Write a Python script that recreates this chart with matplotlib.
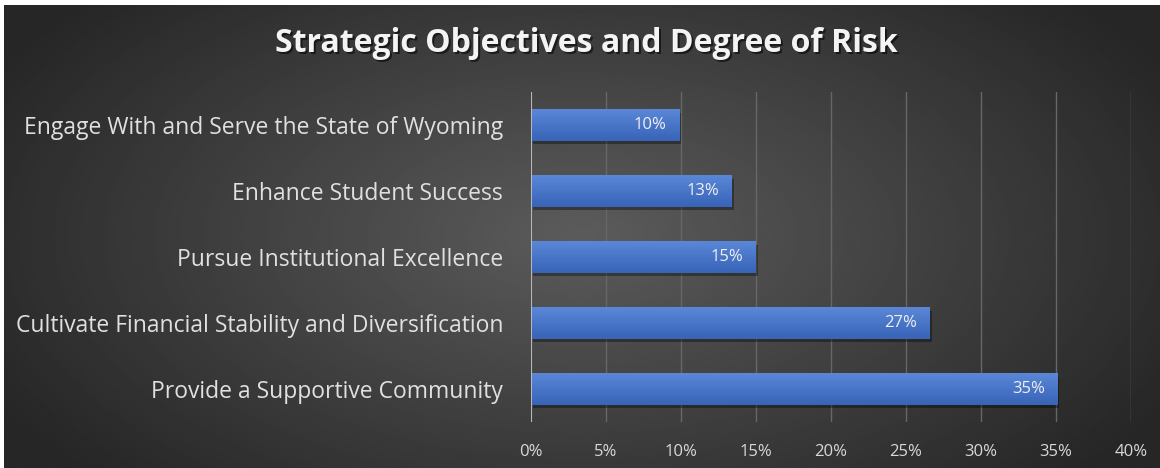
import matplotlib.pyplot as plt
import numpy as np
from matplotlib.patches import Rectangle
from matplotlib.colors import LinearSegmentedColormap

# values (percent)
objectives = [
    "Engage With and Serve the State of Wyoming",
    "Enhance Student Success",
    "Pursue Institutional Excellence",
    "Cultivate Financial Stability and Diversification",
    "Provide a Supportive Community",
]
risk = [9.9, 13.4, 15.0, 26.6, 35.1]
ticks = [0, 5, 10, 15, 20, 25, 30, 35, 40]
tick_labels = [f"{t}%" for t in ticks]

plt.rcParams['font.family'] = ['Open Sans', 'DejaVu Sans']

fig = plt.figure(figsize=(11.6, 4.68), dpi=100)
fig.patch.set_facecolor('white')

# dark radial background
bg = fig.add_axes([4 / 1160, 0, 1 - 4 / 1160, 1 - 5 / 468])
bg.set_axis_off()
yy, xx = np.mgrid[-1:1:200j, -1:1:400j]
r = np.sqrt((xx / 1.0) ** 2 + (yy / 1.3) ** 2)
shade = np.clip(0.36 - 0.18 * r, 0.15, 0.36)
bg.imshow(shade, cmap='gray', vmin=0, vmax=1, aspect='auto',
          extent=[0, 1, 0, 1], interpolation='bilinear')
bg.set_xlim(0, 1)
bg.set_ylim(0, 1)

ax = fig.add_axes([531 / 1160, 46 / 468, 600 / 1160, 330 / 468])
ax.set_facecolor('none')
ypos = np.arange(len(objectives))
bars = ax.barh(ypos, risk, height=0.47, color='#4472c4', zorder=3)

# shadow and gradient on every bar
grad = np.linspace(0, 1, 50).reshape(-1, 1)
bar_cmap = LinearSegmentedColormap.from_list('b', ['#5a87d6', '#3864b9'])
for b in bars:
    x0, y0 = b.get_x(), b.get_y()
    w, h = b.get_width(), b.get_height()
    ax.add_patch(Rectangle((x0 + 0.12, y0 + 0.06), w, h, color='black',
                           alpha=0.35, zorder=2, lw=0))
    im = ax.imshow(grad, cmap=bar_cmap, extent=[x0, x0 + w, y0 + h, y0],
                   aspect='auto', zorder=4, origin='upper')
    im.set_clip_path(b)
    ax.text(x0 + w - 0.85, y0 + h / 2, f"{w:.0f}%", ha='right',
            va='center', color='#f0f0f0', fontsize=12, zorder=5)

ax.set_xlim(0, 40)
ax.set_ylim(len(objectives) - 0.5, -0.5)
ax.set_xticks(ticks)
ax.set_xticklabels(tick_labels, color='#d9d9d9', fontsize=12)
ax.set_yticks(ypos)
ax.set_yticklabels(objectives, color='#e0e0e0', fontsize=16.5)
ax.tick_params(axis='both', length=0)
ax.tick_params(axis='y', pad=20)
ax.tick_params(axis='x', pad=16)
ax.grid(axis='x', color='#676767', linewidth=1, zorder=1)
ax.axvline(0, color='#c8c8c8', linewidth=1.2, zorder=6)
for s in ax.spines.values():
    s.set_visible(False)

title = "Strategic Objectives and Degree of Risk"
fig.text(588 / 1160, 1 - 46 / 468, title, ha='center', va='center',
         color='black', alpha=0.55, fontsize=23, fontweight='bold')
fig.text(586 / 1160, 1 - 44 / 468, title, ha='center', va='center',
         color='#f4f4f4', fontsize=23, fontweight='bold')

fig.savefig('out.png', dpi=100)
